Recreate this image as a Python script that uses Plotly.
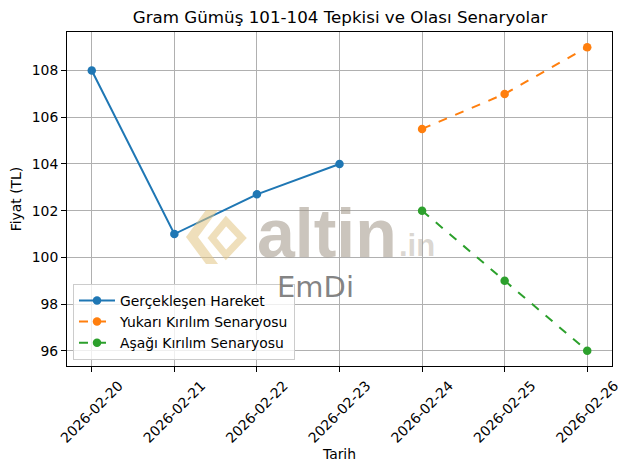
import plotly.graph_objects as go

dates_actual = ["2026-02-20", "2026-02-21", "2026-02-22", "2026-02-23"]
values_actual = [108, 101, 102.7, 104]
dates_scen = ["2026-02-24", "2026-02-25", "2026-02-26"]
values_up = [105.5, 107, 109]
values_down = [102, 99, 96]
tick_dates = ["2026-02-20", "2026-02-21", "2026-02-22", "2026-02-23",
              "2026-02-24", "2026-02-25", "2026-02-26"]

font = "DejaVu Sans"
FS = 13.9
W, H = 619, 462          # page body has an 8px margin
L, R, T, B = 59, 15, 24, 104

fig = go.Figure()

fig.add_trace(go.Scatter(x=dates_actual, y=values_actual, mode="lines+markers",
                         name="Gerçekleşen Hareket",
                         line=dict(color="#1f77b4", width=2),
                         marker=dict(size=8.5, color="#1f77b4")))
fig.add_trace(go.Scatter(x=dates_scen, y=values_up, mode="lines+markers",
                         name="Yukarı Kırılım Senaryosu",
                         line=dict(color="#ff7f0e", width=2, dash="dash"),
                         marker=dict(size=8.5, color="#ff7f0e")))
fig.add_trace(go.Scatter(x=dates_scen, y=values_down, mode="lines+markers",
                         name="Aşağı Kırılım Senaryosu",
                         line=dict(color="#2ca02c", width=2, dash="dash"),
                         marker=dict(size=8.5, color="#2ca02c")))

axis_common = dict(showline=True, linecolor="black", linewidth=1, mirror=True,
                   ticks="outside", ticklen=5, tickcolor="black",
                   showgrid=True, gridcolor="#b0b0b0", gridwidth=1,
                   zeroline=False, automargin=False,
                   tickfont=dict(family=font, size=FS, color="black"))

fig.update_layout(
    width=W, height=H,
    paper_bgcolor="white", plot_bgcolor="white",
    margin=dict(l=L, r=R, t=T, b=B),
    font=dict(family=font, size=FS, color="black"),
    title=dict(text="Gram Gümüş 101-104 Tepkisi ve Olası Senaryolar",
               x=332 / W, xanchor="center", y=1 - 9 / H, yanchor="middle",
               font=dict(family=font, size=16.7, color="black")),
    xaxis=dict(type="date", tickvals=tick_dates, ticktext=tick_dates,
               tickangle=-45, ticklabelshift=27,
               range=["2026-02-19 16:48", "2026-02-26 07:12"],
               title=dict(text="Tarih", font=dict(family=font, size=FS), standoff=4),
               **axis_common),
    yaxis=dict(range=[95.35, 109.65], tickvals=[96, 98, 100, 102, 104, 106, 108],
               title=dict(text="Fiyat (TL)", font=dict(family=font, size=FS), standoff=8),
               **axis_common),
    legend=dict(x=0.011, y=0.018, xanchor="left", yanchor="bottom",
                bgcolor="rgba(255,255,255,0.8)", bordercolor="#cccccc", borderwidth=1,
                font=dict(family=font, size=FS), tracegroupgap=0, itemwidth=36),
    showlegend=True,
)

# helpers for decorative watermark placed in screen pixels
PW = W - L - R
PH = H - T - B


def px(sx):
    return (sx - 8 - L) / PW


def py(sy):
    return 1 - (sy - 8 - T) / PH


def path(points):
    return "M " + " L ".join(f"{px(a):.4f} {py(b):.4f}" for a, b in points) + " Z"


gold = "rgba(226,196,132,0.55)"
fig.add_shape(type="path", xref="paper", yref="paper",
              path=path([(206, 210), (186, 237), (206, 264), (218, 264), (198, 237), (218, 210)]),
              fillcolor=gold, line=dict(width=0), layer="above")
fig.add_shape(type="path", xref="paper", yref="paper",
              path=path([(226, 221), (242, 238), (226, 255), (212, 238)]),
              fillcolor="rgba(0,0,0,0)", line=dict(width=7, color=gold), layer="above")
fig.add_annotation(text="<b>altin</b>", xref="paper", yref="paper", x=px(255), y=py(258),
                   xanchor="left", yanchor="bottom", showarrow=False, yshift=-15,
                   font=dict(family="Liberation Sans", size=68, color="rgba(160,150,135,0.55)"))
fig.add_annotation(text="<b>.in</b>", xref="paper", yref="paper", x=px(397), y=py(258),
                   xanchor="left", yanchor="bottom", showarrow=False, yshift=-7,
                   font=dict(family="Liberation Sans", size=31, color="rgba(160,150,135,0.4)"))
fig.add_annotation(text="EmDi", xref="paper", yref="paper", x=px(315), y=py(287),
                   xanchor="center", yanchor="middle", showarrow=False,
                   font=dict(family="DejaVu Sans", size=29, color="rgba(110,110,110,0.85)"))

fig.write_html("out.html")
